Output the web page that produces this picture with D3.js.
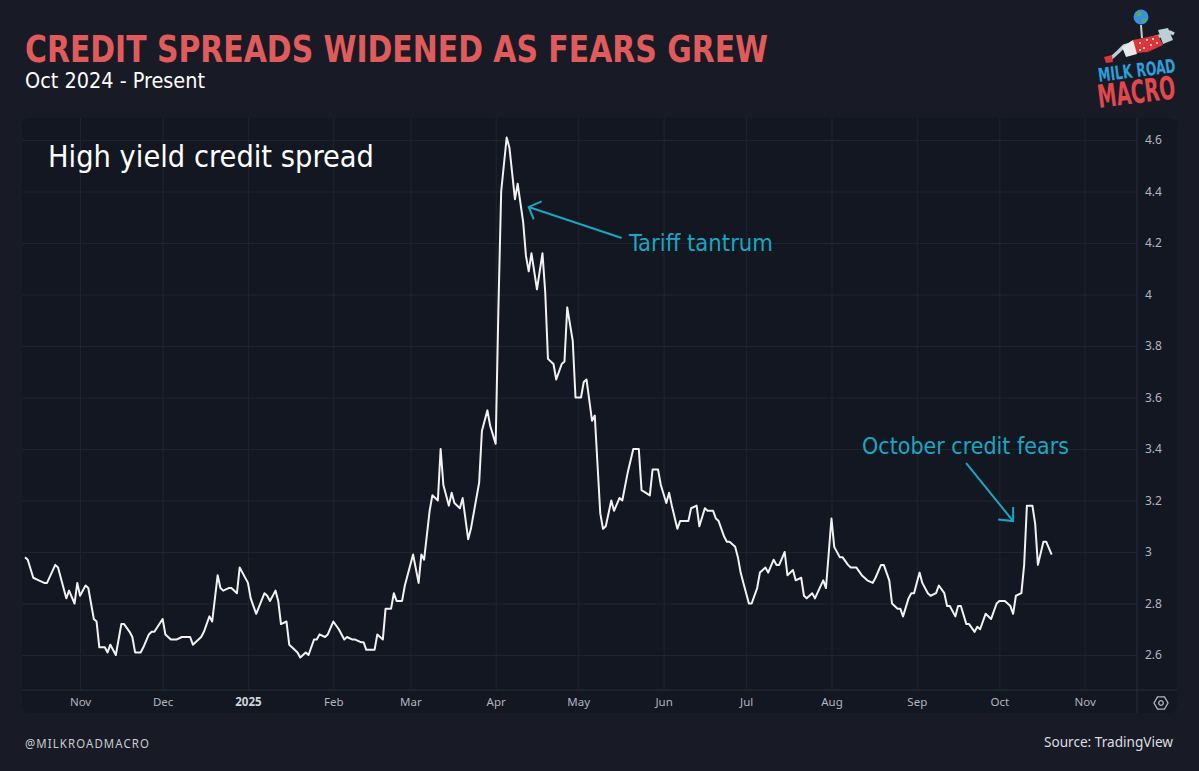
<!DOCTYPE html>
<html>
<head>
<meta charset="utf-8">
<script src="https://cdn.jsdelivr.net/npm/d3@7"></script>
<style>
html, body { margin: 0; padding: 0; background: #181b26; }
svg { display: block; }
</style>
</head>
<body>
<svg></svg>
<script>
// high yield OAS
const dates = [
	"2024-10-12","2024-10-13","2024-10-15","2024-10-17","2024-10-19","2024-10-20","2024-10-23","2024-10-24","2024-10-25","2024-10-27",
	"2024-10-28","2024-10-30","2024-10-31","2024-11-01","2024-11-03","2024-11-04","2024-11-06","2024-11-07","2024-11-08","2024-11-10",
	"2024-11-11","2024-11-12","2024-11-14","2024-11-16","2024-11-17","2024-11-19","2024-11-20","2024-11-21","2024-11-23","2024-11-24",
	"2024-11-26","2024-11-27","2024-11-28","2024-12-01","2024-12-02","2024-12-04","2024-12-06","2024-12-08","2024-12-11","2024-12-12",
	"2024-12-15","2024-12-16","2024-12-18","2024-12-19","2024-12-21","2024-12-22","2024-12-23","2024-12-25","2024-12-26","2024-12-28",
	"2024-12-29","2024-12-30","2025-01-01","2025-01-02","2025-01-04","2025-01-07","2025-01-08","2025-01-09","2025-01-11","2025-01-12",
	"2025-01-13","2025-01-15","2025-01-16","2025-01-17","2025-01-19","2025-01-20","2025-01-22","2025-01-23","2025-01-25","2025-01-26",
	"2025-01-27","2025-01-29","2025-01-30","2025-02-01","2025-02-03","2025-02-05","2025-02-06","2025-02-08","2025-02-09","2025-02-11",
	"2025-02-12","2025-02-13","2025-02-16","2025-02-17","2025-02-19","2025-02-20","2025-02-22","2025-02-23","2025-02-24","2025-02-26",
	"2025-02-27","2025-03-02","2025-03-04","2025-03-05","2025-03-06","2025-03-08","2025-03-09","2025-03-11","2025-03-12","2025-03-13",
	"2025-03-15","2025-03-16","2025-03-17","2025-03-19","2025-03-20","2025-03-22","2025-03-23","2025-03-26","2025-03-27","2025-03-29",
	"2025-03-30","2025-04-01","2025-04-02","2025-04-03","2025-04-05","2025-04-06","2025-04-08","2025-04-09","2025-04-11","2025-04-12",
	"2025-04-13","2025-04-14","2025-04-16","2025-04-18","2025-04-19","2025-04-20","2025-04-22","2025-04-23","2025-04-25","2025-04-26",
	"2025-04-27","2025-04-29","2025-04-30","2025-05-02","2025-05-03","2025-05-04","2025-05-06","2025-05-07","2025-05-09","2025-05-10",
	"2025-05-11","2025-05-13","2025-05-14","2025-05-16","2025-05-17","2025-05-19","2025-05-21","2025-05-23","2025-05-24","2025-05-27",
	"2025-05-28","2025-05-30","2025-05-31","2025-06-02","2025-06-03","2025-06-04","2025-06-06","2025-06-07","2025-06-10","2025-06-11",
	"2025-06-13","2025-06-14","2025-06-16","2025-06-17","2025-06-19","2025-06-20","2025-06-21","2025-06-23","2025-06-24","2025-06-25",
	"2025-06-27","2025-06-28","2025-06-29","2025-06-30","2025-07-02","2025-07-03","2025-07-05","2025-07-06","2025-07-08","2025-07-09",
	"2025-07-11","2025-07-12","2025-07-13","2025-07-15","2025-07-16","2025-07-18","2025-07-19","2025-07-21","2025-07-22","2025-07-23",
	"2025-07-25","2025-07-26","2025-07-29","2025-07-30","2025-08-01","2025-08-02","2025-08-04","2025-08-05","2025-08-07","2025-08-08",
	"2025-08-10","2025-08-12","2025-08-14","2025-08-16","2025-08-17","2025-08-19","2025-08-20","2025-08-22","2025-08-23","2025-08-25",
	"2025-08-26","2025-08-27","2025-08-29","2025-08-30","2025-08-31","2025-09-02","2025-09-03","2025-09-05","2025-09-06","2025-09-08",
	"2025-09-09","2025-09-11","2025-09-12","2025-09-13","2025-09-15","2025-09-16","2025-09-17","2025-09-19","2025-09-20","2025-09-22",
	"2025-09-23","2025-09-24","2025-09-26","2025-09-28","2025-09-30","2025-10-01","2025-10-03","2025-10-05","2025-10-06","2025-10-07",
	"2025-10-09","2025-10-10","2025-10-11","2025-10-13","2025-10-14","2025-10-15","2025-10-17","2025-10-18","2025-10-20"
];
const spread = [
	2.98,2.97,2.90,2.89,2.88,2.88,2.95,2.94,2.90,2.82,
	2.85,2.80,2.88,2.83,2.87,2.86,2.74,2.73,2.63,2.63,
	2.61,2.64,2.60,2.72,2.72,2.69,2.67,2.61,2.61,2.63,
	2.68,2.69,2.69,2.74,2.68,2.66,2.66,2.67,2.67,2.64,
	2.67,2.69,2.75,2.73,2.91,2.86,2.85,2.86,2.86,2.84,
	2.94,2.92,2.88,2.82,2.76,2.84,2.83,2.81,2.85,2.81,
	2.72,2.73,2.64,2.63,2.61,2.59,2.61,2.60,2.66,2.66,
	2.68,2.67,2.68,2.73,2.70,2.66,2.67,2.66,2.66,2.65,
	2.65,2.62,2.62,2.68,2.66,2.78,2.78,2.84,2.81,2.81,
	2.87,2.99,2.88,2.99,2.97,3.16,3.22,3.20,3.40,3.26,
	3.18,3.23,3.19,3.17,3.21,3.05,3.09,3.27,3.47,3.55,
	3.49,3.42,3.95,4.40,4.61,4.57,4.37,4.43,4.28,4.15,
	4.09,4.16,4.02,4.16,4.01,3.75,3.73,3.67,3.73,3.74,
	3.95,3.82,3.60,3.60,3.66,3.67,3.51,3.53,3.15,3.09,
	3.10,3.20,3.16,3.21,3.20,3.31,3.40,3.40,3.24,3.22,
	3.32,3.32,3.26,3.19,3.23,3.18,3.09,3.12,3.12,3.17,
	3.18,3.10,3.17,3.16,3.16,3.13,3.12,3.06,3.04,3.04,
	3.02,2.98,2.92,2.88,2.80,2.80,2.86,2.92,2.94,2.92,
	2.97,2.95,2.95,3.00,2.91,2.93,2.89,2.90,2.83,2.82,
	2.84,2.82,2.89,2.86,3.13,3.02,2.98,2.98,2.95,2.94,
	2.94,2.91,2.89,2.88,2.90,2.95,2.95,2.89,2.80,2.78,
	2.78,2.75,2.82,2.84,2.84,2.92,2.88,2.84,2.83,2.84,
	2.87,2.84,2.79,2.79,2.75,2.79,2.79,2.72,2.72,2.69,
	2.71,2.70,2.76,2.74,2.80,2.81,2.81,2.79,2.76,2.83,
	2.84,2.95,3.18,3.18,3.11,2.95,3.04,3.04,2.99
];
const yTicks = [2.6, 2.8, 3, 3.2, 3.4, 3.6, 3.8, 4, 4.2, 4.4, 4.6];
const monthTicks = ["2024-11-01","2024-12-01","2025-01-01","2025-02-01","2025-03-01","2025-04-01",
	"2025-05-01","2025-06-01","2025-07-01","2025-08-01","2025-09-01","2025-10-01","2025-11-01"];
const monthLabels = ["Nov","Dec","2025","Feb","Mar","Apr","May","Jun","Jul","Aug","Sep","Oct","Nov"];
const notes = [
	{ text: "Tariff tantrum", date: "2025-04-13", value: 4.34 },
	{ text: "October credit fears", date: "2025-10-06", value: 3.12 }
];

const parse = d3.timeParse("%Y-%m-%d");
const series = dates.map((d, i) => ({ date: parse(d), v: spread[i] }));

const W = 1199, H = 771;
const svg = d3.select("svg").attr("width", W).attr("height", H);

const TEAL = "#18a7c0";
const AXIS_TXT = "#b2b5be";
const GRID = "#20242f";

function fit(sel, w) {
	const n = sel.node().getComputedTextLength();
	if (Math.abs(n - w) > 2) sel.attr("textLength", w).attr("lengthAdjust", "spacingAndGlyphs");
	return sel;
}

// panel
svg.append("rect").attr("x", 22).attr("y", 118).attr("width", 1155).attr("height", 595)
	.attr("rx", 8).attr("fill", "#131722");

const x = d3.scaleTime().domain([new Date(2024, 9, 12), new Date(2025, 10, 20)]).range([25, 1137]);
const y = d3.scaleLinear().domain([2.6, 4.6]).range([655, 140]);

// grid
svg.append("g").attr("transform", "translate(1137,0)")
	.call(d3.axisRight(y).tickValues(yTicks).tickSize(-1115).tickFormat(""))
	.call(g => g.select(".domain").remove())
	.call(g => g.selectAll("line").attr("stroke", GRID));
svg.append("g").attr("transform", "translate(0,690)")
	.call(d3.axisBottom(x).tickValues(monthTicks.map(parse)).tickSize(-572).tickFormat(""))
	.call(g => g.select(".domain").remove())
	.call(g => g.selectAll("line").attr("stroke", GRID));

// axis frame
svg.append("line").attr("x1", 22).attr("x2", 1177).attr("y1", 690).attr("y2", 690).attr("stroke", "#2a2e39");
svg.append("line").attr("x1", 1137).attr("x2", 1137).attr("y1", 118).attr("y2", 713).attr("stroke", "#2a2e39");

const yAxis = svg.append("g").attr("transform", "translate(1137,0)")
	.call(d3.axisRight(y).tickValues(yTicks).tickSize(0).tickPadding(8).tickFormat(d => String(+d.toFixed(1))));
yAxis.select(".domain").remove();
yAxis.selectAll("text").attr("fill", AXIS_TXT).style("font", "12px 'Noto Sans', sans-serif");

const xAxis = svg.append("g").attr("transform", "translate(0,690)")
	.call(d3.axisBottom(x).tickValues(monthTicks.map(parse)).tickSize(0).tickPadding(8)
		.tickFormat((d, i) => monthLabels[i]));
xAxis.select(".domain").remove();
xAxis.selectAll("text").attr("fill", AXIS_TXT).style("font", "11.5px 'Noto Sans', sans-serif")
	.filter((d, i) => monthLabels[i] === "2025").attr("fill", "#d1d4dc").style("font-weight", "bold");

// settings gear in the corner
const gear = svg.append("g").attr("transform", "translate(1161,703)");
gear.append("path").attr("d", d3.range(6).map((k, i) => {
	const a = Math.PI / 3 * k;
	return (i ? "L" : "M") + (7 * Math.cos(a)).toFixed(2) + "," + (7 * Math.sin(a)).toFixed(2);
}).join("") + "Z").attr("fill", "none").attr("stroke", AXIS_TXT).attr("stroke-width", 1.3);
gear.append("circle").attr("r", 2.3).attr("fill", "none").attr("stroke", AXIS_TXT).attr("stroke-width", 1.3);

// the series
const line = d3.line().x(d => x(d.date)).y(d => y(d.v));
svg.append("path").datum(series).attr("d", line)
	.attr("fill", "none").attr("stroke", "#f2f2f2").attr("stroke-width", 2)
	.attr("stroke-linejoin", "round");

// annotations
const tip0 = [x(parse(notes[0].date)), y(notes[0].value)];
svg.append("path")
	.attr("d", `M${tip0[0] + 93},${tip0[1] + 31}L${tip0[0]},${tip0[1]}M${tip0[0] + 13},${tip0[1] - 5.5}L${tip0[0]},${tip0[1]}L${tip0[0] + 5},${tip0[1] + 12.5}`)
	.attr("fill", "none").attr("stroke", TEAL).attr("stroke-width", 2);
fit(svg.append("text").attr("x", 629).attr("y", 251).attr("fill", TEAL)
	.style("font", "23px 'DejaVu Sans Condensed', sans-serif").text(notes[0].text), 144);

const tip1 = [x(parse(notes[1].date)), y(notes[1].value)];
svg.append("path")
	.attr("d", `M${tip1[0] - 47},${tip1[1] - 58}L${tip1[0]},${tip1[1]}M${tip1[0]},${tip1[1] - 14}L${tip1[0]},${tip1[1]}L${tip1[0] - 15},${tip1[1] - 1.5}`)
	.attr("fill", "none").attr("stroke", TEAL).attr("stroke-width", 2);
fit(svg.append("text").attr("x", 862).attr("y", 454).attr("fill", TEAL)
	.style("font", "23px 'DejaVu Sans Condensed', sans-serif").text(notes[1].text), 208);

fit(svg.append("text").attr("x", 48).attr("y", 167).attr("fill", "#ffffff")
	.style("font", "30px 'DejaVu Sans Condensed', sans-serif").text("High yield credit spread"), 326);

// headings
fit(svg.append("text").attr("x", 25).attr("y", 62).attr("fill", "#e05b5b")
	.style("font", "bold 38px 'DejaVu Sans Condensed', sans-serif").text("CREDIT SPREADS WIDENED AS FEARS GREW"), 743);
fit(svg.append("text").attr("x", 25).attr("y", 88).attr("fill", "#ffffff")
	.style("font", "21px 'DejaVu Sans Condensed', sans-serif").text("Oct 2024 - Present"), 180);

// footer
fit(svg.append("text").attr("x", 25).attr("y", 748).attr("fill", "#c9cbd1")
	.style("font", "12.5px 'Noto Sans', sans-serif").style("letter-spacing", "1.2px").text("@MILKROADMACRO"), 125);
fit(svg.append("text").attr("x", 1173).attr("y", 747).attr("text-anchor", "end").attr("fill", "#dcdde0")
	.style("font", "14px 'Noto Sans', sans-serif").text("Source: TradingView"), 129);

// logo: a reclining figure holding up a globe, then the wordmark
const logo = svg.append("g");
logo.append("path").attr("d", "M1141,25 L1142,38").attr("stroke", "#b9d0d4").attr("stroke-width", 2);
logo.append("circle").attr("cx", 1141).attr("cy", 17).attr("r", 7.5).attr("fill", "#3a8fe0");
logo.append("path").attr("d", "M1136,13 q3,-3 6,0 q-1,4 -5,3 z M1142,19 q3,-1 5,1 q-2,4 -5,2 z").attr("fill", "#52b04c");
logo.append("path").attr("d", "M1108,61 L1118,52 L1124,46 L1132,44 L1160,36 L1170,32 L1174,34")
	.attr("fill", "none").attr("stroke", "#b9d0d4").attr("stroke-width", 3.5).attr("stroke-linejoin", "round");
logo.append("path").attr("d", "M1158,30 L1168,28 L1173,40 L1163,44 Z").attr("fill", "#b9d0d4");
logo.append("path").attr("d", "M1133,40 L1158,35 L1163,45 L1148,52 L1136,53 Z").attr("fill", "#d9373c");
logo.append("path").attr("d", "M1122,47 L1133,40 L1137,54 L1126,57 Z").attr("fill", "#e8e8e8");
logo.append("path").attr("d", "M1104,57 L1112,55 L1113,62 L1106,63 Z").attr("fill", "#d9373c");
logo.selectAll("circle.dot").data([[1140, 43], [1147, 40], [1153, 39], [1144, 48], [1151, 45], [1157, 43], [1140, 50]])
	.join("circle").attr("class", "dot").attr("cx", d => d[0]).attr("cy", d => d[1]).attr("r", 0.9).attr("fill", "#ffffff");

// wordmark: tilted, narrowed by a horizontal scale
function mark(text, x0, y0, size, color, w) {
	const g = logo.append("g").attr("transform", `translate(${x0},${y0}) rotate(-7.3)`);
	const t = g.append("text").attr("fill", color)
		.style("font", `bold ${size}px 'DejaVu Sans Condensed', sans-serif`).text(text);
	t.attr("transform", `scale(${w / t.node().getComputedTextLength()},1)`);
}
mark("MILK ROAD", 1099, 82, 19, "#2aa0dc", 78);
mark("MACRO", 1099, 108, 32, "#e4474d", 78);
</script>
</body>
</html>
